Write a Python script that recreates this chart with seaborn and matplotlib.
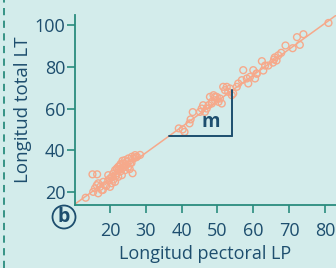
import matplotlib
matplotlib.use("Agg")
import matplotlib.pyplot as plt
import seaborn as sns
import pandas as pd
from matplotlib.lines import Line2D
from matplotlib.patches import Circle

# Data (pectoral length LP vs total length LT)
lp = [13.2, 15.1, 16.4, 15.3, 15.8, 16.3, 16.7, 17.2, 17.7, 16.7, 18.1, 18.6, 19.5,
      19.5, 20.0, 20.5, 20.9, 21.4, 21.9, 22.3, 22.8, 23.3, 23.7, 24.2, 24.7, 25.1,
      25.6, 26.1, 26.5, 27.0, 27.5, 26.3, 22.3, 23.3, 21.4, 20.5, 24.2, 25.1, 21.0,
      22.0, 23.0, 24.0, 19.0, 22.5, 25.5, 20.0, 18.0, 23.5, 24.5, 21.5, 26.0, 28.4,
      27.2, 23.0, 22.0,
      40.3, 40.8, 42.2, 42.5, 43.1, 39.2,
      46.0, 45.6, 47.0, 47.5, 45.1, 46.5, 47.9, 48.9, 49.8, 49.3, 50.3, 50.7, 48.4,
      48.4, 49.3, 51.2, 52.6, 53.5, 54.0, 55.4, 53.0, 54.4, 52.1, 51.6,
      57.2, 60.0, 60.9, 59.1, 58.2, 60.5, 56.8, 55.8, 58.6, 62.4, 63.3, 62.8, 64.2,
      61.0, 65.5, 66.0, 66.5, 67.0, 65.8, 67.8, 69.0, 71.0, 73.0, 72.2, 74.0, 81.0]
lt = [17.3, 28.5, 28.5, 20.1, 21.8, 23.3, 24.2, 22.5, 21.0, 19.4, 24.9, 23.3, 25.7,
      28.1, 26.5, 27.3, 28.9, 30.5, 31.3, 32.1, 32.9, 31.3, 33.7, 35.3, 34.5, 36.1,
      33.7, 36.9, 36.1, 37.7, 36.9, 29.0, 27.3, 28.1, 24.9, 24.2, 30.5, 32.1, 26.0,
      29.0, 30.0, 32.0, 23.0, 30.5, 31.0, 22.5, 21.0, 35.0, 33.0, 27.5, 34.0, 37.8,
      36.6, 33.5, 31.0,
      50.0, 48.8, 52.9, 54.8, 58.3, 50.5,
      61.6, 60.0, 60.0, 61.6, 58.4, 58.4, 65.6, 66.4, 65.6, 64.0, 63.2, 64.8, 63.2,
      62.4, 65.6, 62.4, 70.4, 69.6, 66.4, 70.4, 68.0, 67.2, 68.8, 70.4,
      78.4, 78.4, 76.8, 75.2, 74.4, 74.4, 73.6, 72.0, 72.0, 82.7, 80.6, 78.2, 80.6,
      76.7, 82.0, 84.5, 83.0, 85.5, 83.5, 86.7, 90.2, 88.9, 90.5, 94.2, 95.6, 101.0]
intercept = 1.6
slope = 1.24
x_ticks = [20, 30, 40, 50, 60, 70, 80]
y_ticks = [20, 40, 60, 80, 100]

df = pd.DataFrame({"LP": lp, "LT": lt})

bg = "#D3ECEB"
salmon = "#F6A98B"
teal = "#2A8C7E"
navy = "#1D4E6E"

sns.set_theme(style="white")
plt.rcParams["font.family"] = ["Open Sans", "DejaVu Sans"]

fig = plt.figure(figsize=(3.36, 2.68), dpi=100)
fig.patch.set_facecolor(bg)
ax = fig.add_axes([0.223, 0.235, 0.777, 0.709])
ax.set_facecolor(bg)

ax.axline((0, intercept), slope=slope, color=salmon, lw=1.1, zorder=2)
sns.scatterplot(data=df, x="LP", y="LT", ax=ax, marker="o", s=24,
                facecolor="none", edgecolor=salmon, linewidth=1.0, zorder=3)

ax.set_xlim(10.2, 83.1)
ax.set_ylim(13.8, 104.8)
ax.set_xticks(x_ticks)
ax.set_yticks(y_ticks)
for s in ["top", "right"]:
    ax.spines[s].set_visible(False)
for s in ["left", "bottom"]:
    ax.spines[s].set_color(teal)
    ax.spines[s].set_linewidth(1.3)
ax.tick_params(axis="both", which="major", direction="out", length=6, width=1.2,
               color=teal, labelcolor=navy, labelsize=13, bottom=True, left=True)
ax.tick_params(axis="x", pad=6)
ax.tick_params(axis="y", pad=1)
ax.set_xlabel("Longitud pectoral LP", color=navy, fontsize=13, labelpad=4)
ax.set_ylabel("Longitud total LT", color=navy, fontsize=13.5, labelpad=2)

# slope annotation
x0 = 36.5
x1 = 54.1
y0 = intercept + slope * x0
y1 = intercept + slope * x1
ax.plot([x0, x1], [y0, y0], color=navy, lw=1.4, zorder=4)
ax.plot([x1, x1], [y0, y1], color=navy, lw=1.4, zorder=4)
ax.text(48.0, y0 + 2.0, "m", color=navy, fontsize=13.5, fontweight="bold",
        ha="center", va="bottom", zorder=5)

# panel letter
cx, cy = 64 / 336, 1 - 217 / 268
fig.patches.append(Circle((64, 268 - 217), 11.5, transform=None, fill=False,
                          edgecolor=navy, lw=1.3))
fig.text(cx, cy, "b", color=navy, fontsize=14, fontweight="bold",
         ha="center", va="center")

# dashed separator on the left edge
fig.add_artist(Line2D([4 / 336, 4 / 336], [0, 1], transform=fig.transFigure,
                      color=teal, lw=1.3, ls=(0, (4, 3))))

fig.savefig("out.png", dpi=100, facecolor=bg)
